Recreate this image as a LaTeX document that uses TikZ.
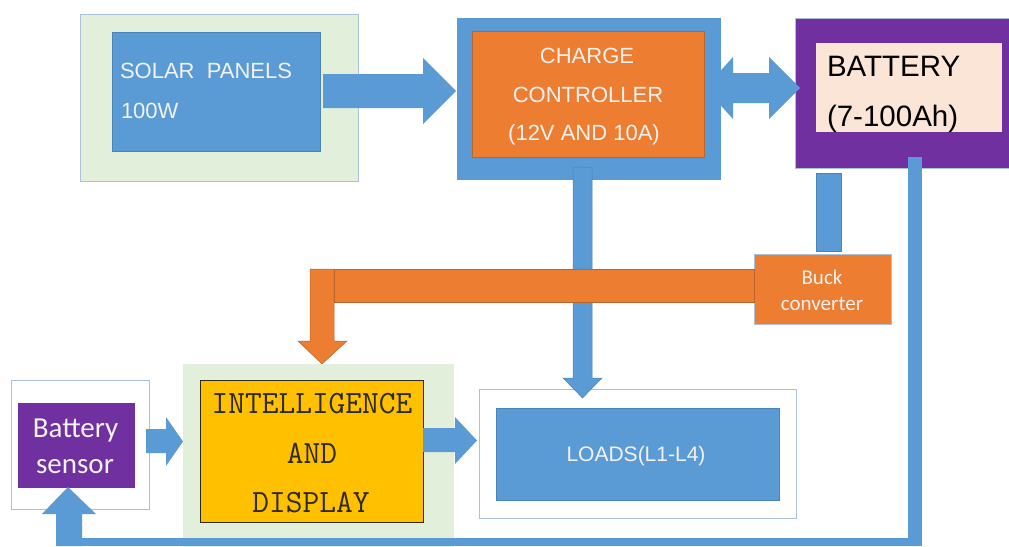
\documentclass[tikz,border=0pt]{standalone}
\usepackage{fontspec}
\setmainfont{Liberation Sans}
\newfontfamily\calfont{Carlito}
\definecolor{cblue}{HTML}{5B9BD5}
\definecolor{cblueD}{HTML}{4A83B8}
\definecolor{corange}{HTML}{ED7D31}
\definecolor{corangeD}{HTML}{B8652E}
\definecolor{cpurple}{HTML}{7030A0}
\definecolor{cgreen}{HTML}{E2EFDA}
\definecolor{cpeach}{HTML}{FBE5D6}
\definecolor{cyellow}{HTML}{FFC000}
\definecolor{cedge}{HTML}{A9C1DC}
\definecolor{ctext}{HTML}{F2F2F2}
\definecolor{cdark}{HTML}{2E2A1E}
\begin{document}
\begin{tikzpicture}[x=1pt,y=-1pt,
  box/.style={rectangle, inner sep=0pt, outer sep=0pt, anchor=north west},
  bluebox/.style={box, fill=cblue, draw=cblueD, line width=0.6pt},
  outerbox/.style={box, draw=cedge, line width=0.8pt},
  txt/.style={inner sep=0pt, outer sep=0pt, anchor=base},
  wtxt/.style={txt, text=ctext},
  barrow/.style={fill=cblue},
  oarrow/.style={fill=corange, draw=corangeD, line width=0.5pt}
]
\useasboundingbox (0,0) rectangle (1009,546);
\clip (0,0) rectangle (1009,546);
\fill[white] (0,0) rectangle (1009,546);

% ---------- solar panels ----------
\node[outerbox, fill=cgreen, minimum width=278pt, minimum height=167pt] (solarbg) at (80,14) {};
\node[bluebox, minimum width=208pt, minimum height=119pt] (solar) at (112,32) {};
\node[wtxt, anchor=base west] (solarA) at (120,78) {\fontsize{22}{26}\selectfont SOLAR\ \ PANELS};
\node[wtxt, anchor=base west] (solarB) at (121,118) {\fontsize{22}{26}\selectfont 100W};

% ---------- charge controller ----------
\node[box, fill=cblue, minimum width=264pt, minimum height=162pt] (ccbg) at (457,18) {};
\node[box, fill=corange, draw=corangeD, line width=0.5pt, minimum width=232pt, minimum height=126pt] (cc) at (472,31) {};
\node[wtxt] (ccA) at (587,63) {\fontsize{22}{26}\selectfont CHARGE};
\node[wtxt] (ccB) at (588,102) {\fontsize{22}{26}\selectfont CONTROLLER};
\node[wtxt] (ccC) at (584,140) {\fontsize{22}{26}\selectfont (12V AND 10A)};

% ---------- battery ----------
\node[box, fill=cpurple, draw=cedge, line width=0.5pt, minimum width=230pt, minimum height=150pt] (batbg) at (795,18) {};
\node[box, fill=cpeach, minimum width=186pt, minimum height=89pt] (bat) at (816,43) {};
\node[txt, anchor=base west, text=black] (batA) at (827,76) {\fontsize{29.5}{34}\selectfont BATTERY};
\node[txt, anchor=base west, text=black] (batB) at (827,126) {\fontsize{29.5}{34}\selectfont (7-100Ah)};

% ---------- arrows top row ----------
\path[barrow] (323,74) -- (423,74) -- (423,58) -- (456,91) -- (423,124) -- (423,108) -- (323,108) -- cycle;
\path[barrow] (705,88) -- (733,57) -- (733,73) -- (769,73) -- (769,57) -- (800,88)
   -- (769,119) -- (769,103) -- (733,103) -- (733,119) -- cycle;

% ---------- loads (background first) ----------
\node[outerbox, fill=white, minimum width=317pt, minimum height=129pt] (loadsbg) at (479,389) {};
\node[bluebox, minimum width=283pt, minimum height=92pt] (loads) at (496,408) {};
\node[wtxt] (loadsA) at (636,461) {\fontsize{21}{25}\selectfont LOADS(L1-L4)};

% ---------- vertical feeds ----------
\path[fill=cblue, draw=cblueD, line width=0.5pt] (573,167) -- (592,167) -- (592,378) -- (602,378)
   -- (582.5,398) -- (563,378) -- (573,378) -- cycle;
\node[bluebox, minimum width=25pt, minimum height=78pt] (buckfeed) at (816,173) {};
\fill[cblue] (908,157) rectangle (922,546);

% ---------- buck converter ----------
\node[box, fill=corange, draw=cedge, line width=0.6pt, minimum width=137pt, minimum height=70pt] (buck) at (754,254) {};
\node[wtxt] (buckA) at (822,284) {\calfont\fontsize{21}{25}\selectfont Buck};
\node[wtxt] (buckB) at (822,310) {\calfont\fontsize{21}{25}\selectfont converter};
\path[oarrow] (334,269) rectangle (754,302);
\path[oarrow] (310,269) -- (334,269) -- (334,341) -- (347,341) -- (322,364) -- (298,341) -- (310,341) -- cycle;

% ---------- intelligence and display ----------
\node[box, fill=cgreen, minimum width=271pt, minimum height=190pt] (intbg) at (183,364) {};
\node[box, fill=cyellow, draw=cdark, line width=0.8pt, minimum width=223pt, minimum height=142pt] (int) at (200,380) {};
\node[txt, text=cdark] (intA) at (312,413) {\ttfamily\fontsize{32.5}{36}\selectfont INTELLIGENCE};
\node[txt, text=cdark] (intB) at (312,463) {\ttfamily\fontsize{32.5}{36}\selectfont AND};
\node[txt, text=cdark] (intC) at (311,512) {\ttfamily\fontsize{32.5}{36}\selectfont DISPLAY};

% ---------- battery sensor ----------
\node[outerbox, fill=white, minimum width=138pt, minimum height=129pt] (sensbg) at (11,380) {};
\node[box, fill=cpurple, minimum width=117pt, minimum height=85pt] (sens) at (18,403) {};
\node[wtxt] (sensA) at (75.5,437) {\calfont\fontsize{29}{33}\selectfont Battery};
\node[wtxt] (sensB) at (75,473) {\calfont\fontsize{29}{33}\selectfont sensor};

% ---------- bottom return line and lower arrows ----------
\fill[cblue] (82,538) rectangle (922,546);
\path[barrow] (146,429) -- (166,429) -- (166,417) -- (183,441.5) -- (166,466) -- (166,453) -- (146,453) -- cycle;
\path[barrow] (423,428) -- (455,428) -- (455,417) -- (477,440.5) -- (455,464) -- (455,452) -- (423,452) -- cycle;
\path[barrow] (56,546) -- (56,514) -- (42,514) -- (68,487) -- (96,514) -- (82,514) -- (82,546) -- cycle;
\end{tikzpicture}
\end{document}
